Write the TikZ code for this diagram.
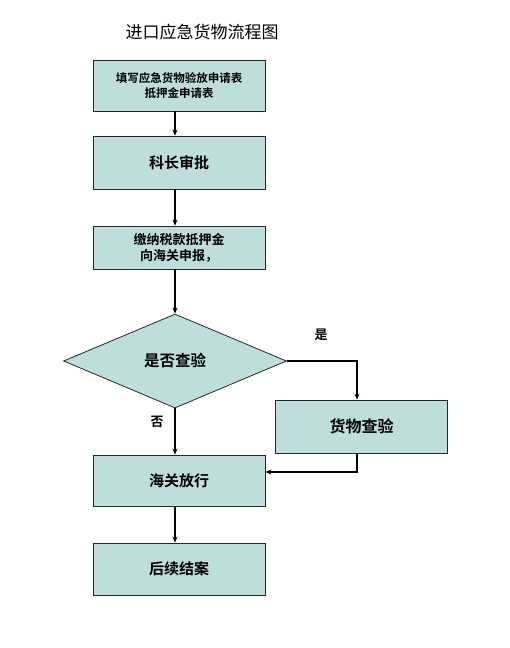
\documentclass[tikz,border=0pt]{standalone}
\usepackage{fontspec}
\newfontfamily\cjk{Noto Sans CJK SC}
\newfontfamily\cjkb{Noto Sans CJK SC Bold}
\usetikzlibrary{shapes.geometric,arrows.meta}
\definecolor{boxfill}{RGB}{190,222,222}
\begin{document}
\begin{tikzpicture}[x=1pt,y=-1pt,
  box/.style={draw=black!85,fill=boxfill,line width=0.8pt,minimum width=172pt,inner sep=0pt,align=center},
  link/.style={line width=1.7pt,-{Stealth[length=6pt,width=5pt]}},
  lbl/.style={font=\cjkb\fontsize{13}{15}\selectfont}]
\useasboundingbox (0,0) rectangle (510,648);
\node[font=\cjk\fontsize{17}{19}\selectfont] (title) at (202,32) {进口应急货物流程图};
\node[box,minimum height=51pt,font=\cjkb\fontsize{11.5}{15}\selectfont] (b1) at (179,85.5) {填写应急货物验放申请表\\抵押金申请表};
\node[box,minimum height=53pt,font=\cjkb\fontsize{15}{18}\selectfont] (b2) at (179,162.5) {科长审批};
\node[box,minimum height=43pt,font=\cjkb\fontsize{13}{16}\selectfont] (b3) at (179,247.5) {缴纳税款抵押金\\向海关申报，};
\node[draw=black!85,fill=boxfill,line width=0.8pt,diamond,minimum width=223pt,minimum height=94pt,inner sep=0pt,aspect=2.37,font=\cjkb\fontsize{15.5}{18}\selectfont] (d) at (175,361) {是否查验};
\node[box,minimum height=53pt,font=\cjkb\fontsize{16}{18}\selectfont] (c) at (361.5,426.5) {货物查验};
\node[box,minimum height=51pt,font=\cjkb\fontsize{15}{18}\selectfont] (r) at (179,480.5) {海关放行};
\node[box,minimum height=52pt,font=\cjkb\fontsize{15}{18}\selectfont] (e) at (179,569) {后续结案};
\node[lbl] (yes) at (321,335) {是};
\node[lbl] (no) at (157,422) {否};
\coordinate (cx) at (175,0);
\draw[link] (b1.south -| cx) -- (b2.north -| cx);
\draw[link] (b2.south -| cx) -- (b3.north -| cx);
\draw[link] (b3.south -| cx) -- (d.north);
\coordinate (kx) at (357,0);
\draw[link] (d.east) -- (d.east -| kx) -- (c.north -| kx);
\draw[link] (d.south) -- (r.north -| cx);
\coordinate (k2) at (357,472);
\draw[link] (c.south -| k2) -- (k2) -- (r.east |- k2);
\draw[link] (r.south -| cx) -- (e.north -| cx);
\end{tikzpicture}
\end{document}
